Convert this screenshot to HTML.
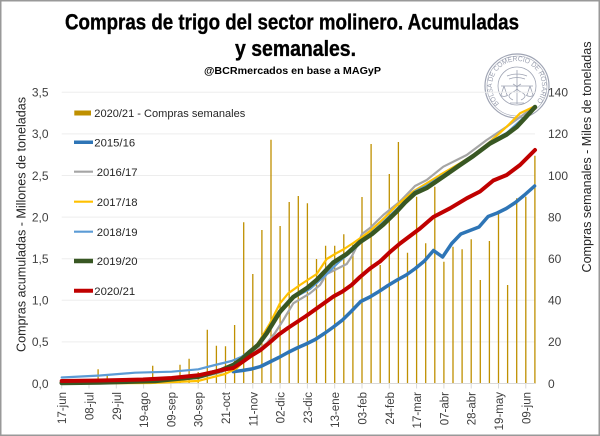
<!DOCTYPE html>
<html><head><meta charset="utf-8"><style>
html,body{margin:0;padding:0;background:#fff;}
svg{display:block;}
text{font-family:"Liberation Sans",sans-serif;}
</style></head><body>
<svg width="600" height="436" viewBox="0 0 600 436" xmlns="http://www.w3.org/2000/svg">
<rect x="0" y="0" width="600" height="436" fill="#fff"/>
<rect x="0.75" y="0.75" width="598.5" height="434.5" fill="none" stroke="#999" stroke-width="1.5"/>

<!-- title -->
<text x="65" y="29.5" font-size="22" font-weight="bold" fill="#000" stroke="#000" stroke-width="0.35" textLength="454" lengthAdjust="spacingAndGlyphs">Compras de trigo del sector molinero. Acumuladas</text>
<text x="235" y="56" font-size="22" font-weight="bold" fill="#000" stroke="#000" stroke-width="0.35" textLength="121" lengthAdjust="spacingAndGlyphs">y semanales.</text>
<text x="204" y="74" font-size="10" font-weight="bold" fill="#000" textLength="177" lengthAdjust="spacingAndGlyphs">@BCRmercados  en base a MAGyP</text>

<!-- seal -->
<g opacity="0.85" stroke="#8e94a6" fill="none">
<circle cx="517" cy="86" r="32" stroke-width="1.2"/>
<circle cx="517" cy="86" r="30" stroke-width="0.6"/>
<circle cx="517" cy="86" r="19" stroke-width="0.8"/>
<path d="M517 70V104 M507 76q10 -4 20 0 M509 79q8 -3 16 0 M513 84q8 4 0 8 q-8 4 0 8 M521 84q-8 4 0 8 q8 4 0 8 M501 86H533 M504 86l-3 9 M504 86l3 9 M530 86l-3 9 M530 86l3 9 M500 95q4 3 8 0 M526 95q4 3 8 0 M510 103h14" stroke-width="0.8"/>
</g>
<defs><path id="sealArc" d="M499.3 103.7 A25 25 0 1 1 534.7 103.7"/></defs>
<text font-size="7" fill="#8e94a6" opacity="0.9"><textPath href="#sealArc" textLength="114" lengthAdjust="spacingAndGlyphs">BOLSA DE COMERCIO DE ROSARIO</textPath></text>

<!-- gridlines -->
<g stroke="#ededed" stroke-width="1">
<line x1="61.7" x2="535" y1="341.9" y2="341.9"/>
<line x1="61.7" x2="535" y1="300.3" y2="300.3"/>
<line x1="61.7" x2="535" y1="258.7" y2="258.7"/>
<line x1="61.7" x2="535" y1="217.1" y2="217.1"/>
<line x1="61.7" x2="535" y1="175.5" y2="175.5"/>
<line x1="61.7" x2="535" y1="133.9" y2="133.9"/>
<line x1="61.7" x2="535" y1="92.3" y2="92.3"/>
</g>

<!-- bars -->
<path stroke="#BF9000" stroke-width="1.3" fill="none" d="M98.1 383.5V369.3M107.2 383.5V376M152.7 383.5V365.7M180 383.5V364.7M189.1 383.5V358.7M198.2 383.5V372M207.3 383.5V329.7M216.4 383.5V345.7M225.5 383.5V346.3M234.6 383.5V325M243.7 383.5V222.3M252.8 383.5V274M261.9 383.5V230M271 383.5V139.7M280.1 383.5V226M289.2 383.5V202M298.3 383.5V196M307.4 383.5V203.3M316.5 383.5V259M325.6 383.5V245.7M334.7 383.5V245.7M343.8 383.5V234.3M352.9 383.5V244.7M362 383.5V197M371.1 383.5V144M380.2 383.5V265M389.3 383.5V174M398.4 383.5V142M407.5 383.5V252.7M416.6 383.5V196.7M425.7 383.5V243.3M434.8 383.5V186.7M443.9 383.5V261.7M453 383.5V246.7M462.1 383.5V249.3M471.2 383.5V239.3M480.3 383.5V280M489.4 383.5V241M498.5 383.5V211.7M507.6 383.5V285M516.7 383.5V198.3M525.8 383.5V196.7M534.9 383.5V155.7"/>

<!-- x axis -->
<line x1="61.7" x2="535" y1="383.5" y2="383.5" stroke="#d9d9d9" stroke-width="1"/>
<path stroke="#d9d9d9" stroke-width="1" d="M61.7 383.5v5M89 383.5v5M116.3 383.5v5M143.6 383.5v5M170.9 383.5v5M198.2 383.5v5M225.5 383.5v5M252.8 383.5v5M280.1 383.5v5M307.4 383.5v5M334.7 383.5v5M362 383.5v5M389.3 383.5v5M416.6 383.5v5M443.9 383.5v5M471.2 383.5v5M498.5 383.5v5M525.8 383.5v5"/>

<!-- lines -->
<g fill="none" stroke-linejoin="round" stroke-linecap="round">
<polyline stroke="#2E75B6" stroke-width="3.5" points="233.3,371.7 242.4,370.5 251.5,369 260.6,366.5 269.7,362 278.8,357.5 287.9,352.5 297,348 306.1,344 315.2,339.5 324.3,333.5 333.4,327 342.5,320 351.6,311 360.7,301.5 369.8,297 378.9,291.5 388,285.5 397.1,280 406.2,275 415.3,268.5 424.4,261 433.5,250.5 442.6,257 451.7,243.5 460.8,234 469.9,230.5 479,227 488.1,216.5 497.2,213 506.3,208.5 515.4,202.5 524.5,195 534.6,186"/>
<polyline stroke="#A5A5A5" stroke-width="2.2" points="61.7,383 150,382 198,378 221.7,372 238,364 255,352 266.7,343.3 275,333 283.3,320 293.3,303.3 310,293.3 320,285 326.7,274 336.7,269 346.7,264 352,256 357,246 362,234 370,228 383.3,215 400,201.5 415,186 426.7,180 443.3,166.7 466.7,155 486.7,140 506.7,126.7 533.3,107.5"/>
<polyline stroke="#FFC000" stroke-width="2.2" points="61.7,383.5 150,383 198,381 208.3,378.3 225,374 236.7,368.3 250,355 260,340 270,323.3 280,303.3 288.3,293.3 300,285 316.7,274 326.7,259 336.7,253 343.3,249.5 353.3,243 363.3,236 370,231 383.3,219 396.7,205.5 413.3,191.5 426.7,183.3 440,175 460,163.3 473.3,155 490,141.7 506.7,126.7 520,113.3 533.3,107"/>
<polyline stroke="#5B9BD5" stroke-width="2.2" points="61.7,377.5 100,375.5 135,372.7 171.7,371.7 198.3,369.3 215,365 231.7,361 241.7,356.7 250,350.5 258,345 266.7,332 280,312.5 293.3,298 310,289 326.7,274 340,261 353.3,250 366.7,237 383.3,222 396.7,209 415,191.5 426.7,185.5 443.3,175 460,164 473.3,155 490,142 506.7,133 520,121 535,108"/>
<polyline stroke="#385723" stroke-width="4.5" points="61.7,383 100,382.5 155,381 198.3,376.7 221.7,370 233.3,365 242,359 250,351.7 258,345 266.7,333.3 280,311.7 293.3,297 306.7,288.3 316.7,280 333.3,262.5 346.7,254 360,242 372,234 383.3,224.5 396.7,211.5 405,202.5 415,193.3 426.7,188 443.3,176.7 460,165 473.3,156 490,143.5 506.7,134.5 516.7,127 526,117 535,107"/>
<polyline stroke="#C00000" stroke-width="4" points="61.7,381 100,380.5 143,379.5 171.7,378 198.3,375.3 215,371.7 224,369.5 233.3,368 242.4,362 251.5,355.5 260.6,350 269.7,342.5 278.8,334.5 287.9,328 297,322 306.1,316 315.2,309.5 324.3,303 333.4,296.5 342.5,291.5 351.6,285 360,277 370,268.5 380,261.5 390,252 400,243.5 410,236 420,228.5 433.3,217 450,208.3 466.7,198.3 480,191.5 493.3,180.5 506.7,175 520,165 535,150"/>
</g>

<!-- left axis labels -->
<g font-size="12" fill="#404040" text-anchor="end">
<text x="48.5" y="387.8">0,0</text>
<text x="48.5" y="346.2">0,5</text>
<text x="48.5" y="304.6">1,0</text>
<text x="48.5" y="263">1,5</text>
<text x="48.5" y="221.4">2,0</text>
<text x="48.5" y="179.8">2,5</text>
<text x="48.5" y="138.2">3,0</text>
<text x="48.5" y="96.6">3,5</text>
</g>
<!-- right axis labels -->
<g font-size="12" fill="#404040">
<text x="548" y="387.8">0</text>
<text x="548" y="346.2">20</text>
<text x="548" y="304.6">40</text>
<text x="548" y="263">60</text>
<text x="548" y="221.4">80</text>
<text x="548" y="179.8">100</text>
<text x="548" y="138.2">120</text>
<text x="548" y="96.6">140</text>
</g>

<!-- x labels -->
<g font-size="11.5" fill="#404040" text-anchor="end">
<text transform="translate(66.2,392) rotate(-90)">17-jun</text>
<text transform="translate(93.5,392) rotate(-90)">08-jul</text>
<text transform="translate(120.8,392) rotate(-90)">29-jul</text>
<text transform="translate(148.1,392) rotate(-90)">19-ago</text>
<text transform="translate(175.4,392) rotate(-90)">09-sep</text>
<text transform="translate(202.7,392) rotate(-90)">30-sep</text>
<text transform="translate(230,392) rotate(-90)">21-oct</text>
<text transform="translate(257.3,392) rotate(-90)">11-nov</text>
<text transform="translate(284.6,392) rotate(-90)">02-dic</text>
<text transform="translate(311.9,392) rotate(-90)">23-dic</text>
<text transform="translate(339.2,392) rotate(-90)">13-ene</text>
<text transform="translate(366.5,392) rotate(-90)">03-feb</text>
<text transform="translate(393.8,392) rotate(-90)">24-feb</text>
<text transform="translate(421.1,392) rotate(-90)">17-mar</text>
<text transform="translate(448.4,392) rotate(-90)">07-abr</text>
<text transform="translate(475.7,392) rotate(-90)">28-abr</text>
<text transform="translate(503,392) rotate(-90)">19-may</text>
<text transform="translate(530.3,392) rotate(-90)">09-jun</text>
</g>

<!-- axis titles -->
<text transform="translate(25.5,224.5) rotate(-90)" font-size="12.5" fill="#262626" text-anchor="middle" textLength="255" lengthAdjust="spacingAndGlyphs">Compras acumuladas - Millones de toneladas</text>
<text transform="translate(591,157) rotate(-90)" font-size="12.5" fill="#262626" text-anchor="middle" textLength="231" lengthAdjust="spacingAndGlyphs">Compras semanales - Miles de toneladas</text>

<!-- legend -->
<rect x="74.3" y="110.5" width="16.7" height="5" fill="#BF9000"/>
<g stroke-linecap="butt">
<line x1="74" x2="93" y1="142.3" y2="142.3" stroke="#2E75B6" stroke-width="3.5"/>
<line x1="74" x2="93" y1="171.7" y2="171.7" stroke="#A5A5A5" stroke-width="2.2"/>
<line x1="74" x2="93" y1="201.7" y2="201.7" stroke="#FFC000" stroke-width="2.2"/>
<line x1="74" x2="93" y1="231.7" y2="231.7" stroke="#5B9BD5" stroke-width="2.2"/>
<line x1="74" x2="93" y1="261" y2="261" stroke="#385723" stroke-width="4.5"/>
<line x1="74" x2="93" y1="290.7" y2="290.7" stroke="#C00000" stroke-width="4"/>
</g>
<g font-size="11.3" fill="#262626">
<text x="94.3" y="116.8" textLength="151" lengthAdjust="spacingAndGlyphs">2020/21 - Compras semanales</text>
<text x="94.3" y="146.4">2015/16</text>
<text x="96.7" y="175.8">2016/17</text>
<text x="96.7" y="205.8">2017/18</text>
<text x="96.7" y="235.8">2018/19</text>
<text x="96.7" y="265.1">2019/20</text>
<text x="94.3" y="294.8">2020/21</text>
</g>
</svg>
</body></html>
